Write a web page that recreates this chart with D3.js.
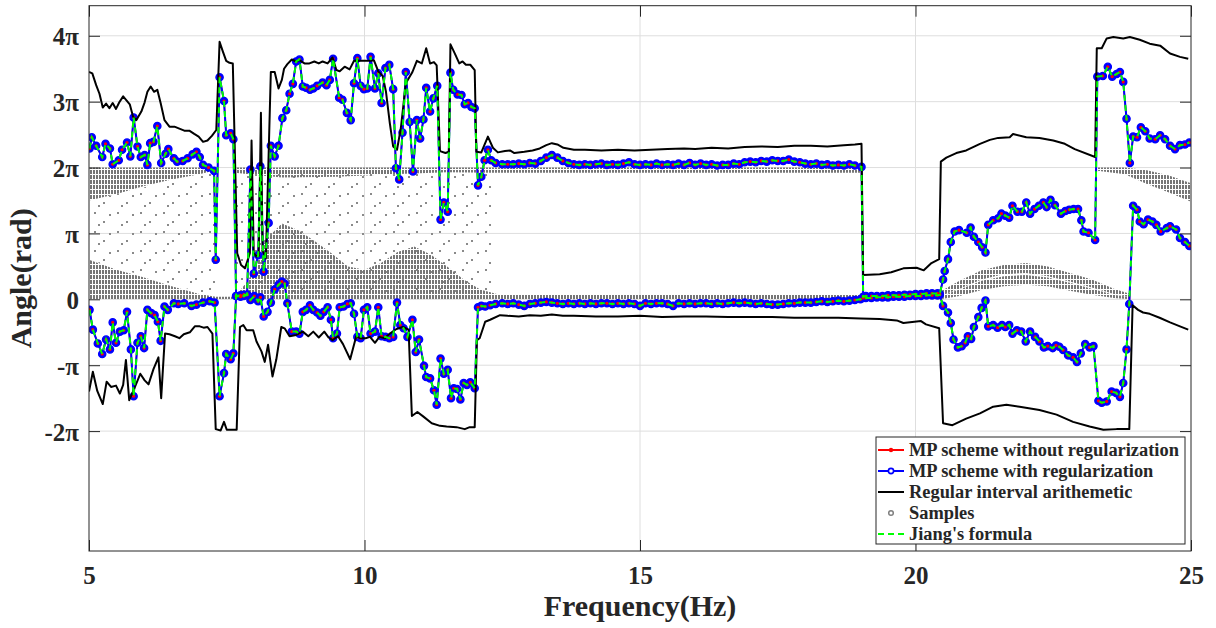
<!DOCTYPE html>
<html><head><meta charset="utf-8">
<script src="https://cdn.jsdelivr.net/npm/d3@7"></script>
<style>
body{margin:0;background:#fff}
svg{display:block}
text{font-family:"Liberation Serif","Times New Roman",serif;font-weight:bold;fill:#262626}
</style>
</head><body>
<svg id="c" width="1216" height="628"></svg>
<script>
// ---------------- data (angles in units of pi rad) ----------------
const xTicks = [5, 10, 15, 20, 25];
const yTicks = [-2, -1, 0, 1, 2, 3, 4];
const yTickLabels = ["-2\u03c0", "-\u03c0", "0", "\u03c0", "2\u03c0", "3\u03c0", "4\u03c0"];
const legendLabels = ["MP scheme without regularization", "MP scheme with regularization",
  "Regular interval arithemetic", "Samples", "Jiang's formula"];

// MP scheme upper branch [frequency Hz, angle/pi]
const mpUpper = [[5.01,2.29],[5.05,2.46],[5.13,2.33],[5.24,2.16],[5.30,2.36],[5.38,2.29],[5.43,2.05],[5.54,2.11],[5.60,2.27],[5.69,2.38],[5.75,2.17],[5.81,2.76],[5.88,2.32],[5.94,2.16],[6.01,2.19],[6.06,2.04],[6.11,2.37],[6.17,2.39],[6.24,2.63],[6.31,2.07],[6.39,2.21],[6.44,2.28],[6.54,2.14],[6.60,2.09],[6.70,2.10],[6.79,2.14],[6.88,2.20],[6.95,2.24],[7.01,2.16],[7.07,2.04],[7.17,2.00],[7.27,1.95],[7.30,0.60],[7.37,3.37],[7.45,3.01],[7.49,2.49],[7.57,2.52],[7.62,2.43],[7.67,0.05],[7.75,0.06],[7.81,0.07],[7.87,0.07],[7.93,1.97],[7.99,0.39],[8.07,0.67],[8.11,2.02],[8.17,0.42],[8.26,1.16],[8.30,2.33],[8.37,2.17],[8.44,2.33],[8.51,2.75],[8.58,2.87],[8.64,3.12],[8.70,3.27],[8.76,3.61],[8.82,3.64],[8.88,3.23],[8.94,3.21],[9.01,3.18],[9.07,3.20],[9.14,3.24],[9.24,3.29],[9.31,3.25],[9.37,3.33],[9.43,3.65],[9.54,3.06],[9.60,3.03],[9.68,2.83],[9.75,2.72],[9.81,3.28],[9.87,3.66],[9.93,3.24],[9.99,3.19],[10.05,3.20],[10.11,3.68],[10.19,3.20],[10.25,3.43],[10.31,2.98],[10.38,3.51],[10.45,3.56],[10.52,3.19],[10.57,1.99],[10.63,1.82],[10.69,2.53],[10.75,3.45],[10.82,2.69],[10.88,1.94],[10.95,2.72],[11.01,2.44],[11.07,2.73],[11.12,3.21],[11.19,2.85],[11.25,3.05],[11.32,3.24],[11.38,1.21],[11.44,1.47],[11.51,1.33],[11.56,3.44],[11.61,3.18],[11.69,3.11],[11.76,3.10],[11.82,2.96],[11.88,2.98],[11.94,2.92],[12.00,2.90],[12.06,1.73],[12.12,1.86],[12.18,2.11],[12.24,2.27],[12.30,2.11],[12.38,2.07],
[12.5,2.05],[12.6,2.05],[12.7,2.05],[12.8,2.06],[12.9,2.05],[13.0,2.07],[13.1,2.06],[13.2,2.10],[13.3,2.15],[13.4,2.19],[13.5,2.15],[13.6,2.10],[13.7,2.07],[13.8,2.05],[13.9,2.04],[14.0,2.05],[14.1,2.04],[14.2,2.05],[14.3,2.06],[14.4,2.04],[14.5,2.05],[14.6,2.04],[14.7,2.06],[14.8,2.08],[14.9,2.05],[15.0,2.04],[15.1,2.05],[15.2,2.04],[15.3,2.06],[15.4,2.04],[15.5,2.05],[15.6,2.04],[15.7,2.06],[15.8,2.04],[15.9,2.07],[16.0,2.04],[16.1,2.06],[16.2,2.04],[16.3,2.05],[16.4,2.03],[16.5,2.04],[16.6,2.04],[16.7,2.06],[16.8,2.05],[16.9,2.08],[17.0,2.09],[17.1,2.08],[17.2,2.10],[17.3,2.09],[17.4,2.11],[17.5,2.10],[17.6,2.10],[17.7,2.12],[17.8,2.09],[17.9,2.08],[18.0,2.06],[18.1,2.05],[18.2,2.06],[18.3,2.04],[18.4,2.05],[18.5,2.03],[18.6,2.04],[18.7,2.03],[18.8,2.05],[18.9,2.03],[19.02,2.01],
[19.05,0.04],[19.1,0.05],[19.2,0.05],[19.3,0.05],[19.4,0.05],[19.5,0.06],[19.6,0.06],[19.7,0.06],[19.8,0.07],[19.9,0.07],[20.0,0.08],[20.1,0.08],[20.2,0.09],[20.3,0.09],[20.4,0.09],[20.44,0.08],
[20.50,0.30],[20.53,0.43],[20.59,0.61],[20.64,0.87],[20.71,1.03],[20.79,1.05],[20.93,1.01],[21.00,1.09],[21.06,0.95],[21.14,0.87],[21.21,0.79],[21.27,0.71],[21.32,1.13],[21.41,1.20],[21.50,1.23],[21.56,1.30],[21.63,1.27],[21.70,1.24],[21.76,1.42],[21.85,1.33],[21.93,1.33],[22.01,1.47],[22.08,1.30],[22.16,1.37],[22.24,1.42],[22.32,1.47],[22.38,1.40],[22.45,1.51],[22.53,1.43],[22.64,1.30],[22.72,1.34],[22.79,1.36],[22.87,1.37],[22.95,1.37],[23.01,1.20],[23.05,1.03],[23.14,1.01],[23.26,0.90],
[23.30,3.38],[23.40,3.39],[23.49,3.53],[23.57,3.38],[23.65,3.42],[23.71,3.45],[23.77,3.30],[23.83,2.74],[23.89,2.07],[23.95,2.47],[24.02,2.46],[24.09,2.61],[24.17,2.55],[24.25,2.44],[24.35,2.43],[24.44,2.49],[24.53,2.43],[24.62,2.33],[24.71,2.28],[24.80,2.34],[24.89,2.35],[24.97,2.38]];

// MP scheme lower branch [frequency Hz, angle/pi]
const mpLower = [[5.01,-0.16],[5.07,-0.46],[5.16,-0.67],[5.24,-0.83],[5.31,-0.61],[5.38,-0.76],[5.43,-0.35],[5.49,-0.66],[5.56,-0.49],[5.63,-0.47],[5.69,-0.19],[5.76,-0.76],[5.81,-1.47],[5.88,-0.66],[5.94,-0.56],[6.00,-0.74],[6.06,-0.16],[6.13,-0.21],[6.19,-0.24],[6.25,-0.34],[6.30,-0.63],[6.37,-0.11],[6.43,-0.16],[6.54,-0.06],[6.62,-0.07],[6.73,-0.06],[6.86,-0.10],[6.95,-0.08],[7.07,-0.05],[7.19,-0.03],[7.28,-0.05],[7.37,-1.47],[7.45,-1.12],[7.49,-0.83],[7.57,-0.91],[7.62,-0.82],[7.67,0.05],[7.75,0.04],[7.81,0.05],[7.87,0.07],[7.93,-0.01],[8.00,0.05],[8.07,-0.03],[8.11,0.03],[8.17,-0.26],[8.24,-0.19],[8.30,-0.05],[8.37,0.15],[8.44,0.22],[8.50,0.27],[8.55,0.24],[8.60,-0.06],[8.68,-0.49],[8.76,-0.49],[8.82,-0.52],[8.88,-0.19],[8.94,-0.16],[9.01,-0.09],[9.07,-0.16],[9.14,-0.20],[9.20,-0.25],[9.26,-0.19],[9.33,-0.12],[9.39,-0.31],[9.43,-0.59],[9.50,-0.52],[9.55,-0.12],[9.62,-0.11],[9.69,-0.07],[9.75,-0.06],[9.81,-0.22],[9.87,-0.57],[9.93,-0.59],[9.99,-0.16],[10.05,-0.12],[10.11,-0.52],[10.19,-0.49],[10.25,-0.12],[10.31,-0.56],[10.38,-0.57],[10.45,-0.59],[10.52,-0.57],[10.59,-0.05],[10.65,-0.39],[10.71,-0.44],[10.78,-0.57],[10.87,-0.31],[10.93,-0.80],[10.99,-0.61],[11.08,-1.01],[11.12,-1.18],[11.19,-1.20],[11.26,-1.38],[11.31,-1.60],[11.38,-0.90],[11.44,-1.13],[11.51,-1.07],[11.57,-1.50],[11.62,-1.35],[11.68,-1.36],[11.74,-1.52],[11.80,-1.27],[11.86,-1.30],[11.92,-1.26],[12.00,-1.35],[12.06,-0.12],[12.12,-0.10],[12.19,-0.11],[12.28,-0.09],[12.38,-0.07],
[12.5,-0.06],[12.6,-0.07],[12.7,-0.06],[12.8,-0.08],[12.9,-0.10],[13.0,-0.07],[13.1,-0.06],[13.2,-0.05],[13.3,-0.04],[13.4,-0.05],[13.5,-0.06],[13.6,-0.07],[13.7,-0.06],[13.8,-0.07],[13.9,-0.06],[14.0,-0.07],[14.1,-0.06],[14.2,-0.07],[14.3,-0.06],[14.4,-0.06],[14.5,-0.07],[14.6,-0.06],[14.7,-0.07],[14.8,-0.06],[14.9,-0.07],[15.0,-0.10],[15.1,-0.06],[15.2,-0.07],[15.3,-0.06],[15.4,-0.06],[15.5,-0.07],[15.6,-0.10],[15.7,-0.06],[15.8,-0.07],[15.9,-0.06],[16.0,-0.07],[16.1,-0.06],[16.2,-0.06],[16.3,-0.07],[16.4,-0.06],[16.5,-0.07],[16.6,-0.06],[16.7,-0.05],[16.8,-0.06],[16.9,-0.05],[17.0,-0.06],[17.1,-0.07],[17.2,-0.06],[17.3,-0.07],[17.4,-0.08],[17.5,-0.08],[17.6,-0.07],[17.7,-0.06],[17.8,-0.06],[17.9,-0.05],[18.0,-0.05],[18.1,-0.05],[18.2,-0.04],[18.3,-0.03],[18.4,-0.04],[18.5,-0.03],[18.6,-0.02],[18.7,-0.03],[18.8,-0.02],[18.9,-0.01],[19.0,0.00],
[19.05,0.02],[19.1,0.02],[19.2,0.02],[19.3,0.03],[19.4,0.03],[19.5,0.03],[19.6,0.04],[19.7,0.04],[19.8,0.04],[19.9,0.05],[20.0,0.05],[20.1,0.05],[20.2,0.06],[20.3,0.06],[20.4,0.06],[20.44,0.07],
[20.50,-0.10],[20.59,-0.20],[20.64,-0.36],[20.69,-0.61],[20.77,-0.73],[20.84,-0.71],[20.90,-0.66],[20.95,-0.56],[21.01,-0.60],[21.06,-0.42],[21.14,-0.27],[21.20,-0.13],[21.27,-0.02],[21.32,-0.41],[21.41,-0.39],[21.49,-0.43],[21.57,-0.39],[21.63,-0.42],[21.70,-0.39],[21.76,-0.52],[21.84,-0.47],[21.92,-0.49],[22.00,-0.64],[22.08,-0.49],[22.17,-0.57],[22.25,-0.64],[22.33,-0.73],[22.40,-0.71],[22.49,-0.74],[22.55,-0.70],[22.61,-0.72],[22.68,-0.77],[22.77,-0.85],[22.86,-0.88],[22.93,-0.95],[23.00,-0.82],[23.08,-0.68],[23.16,-0.73],[23.23,-0.71],
[23.32,-1.54],[23.38,-1.57],[23.47,-1.55],[23.56,-1.40],[23.64,-1.42],[23.71,-1.48],[23.77,-1.27],[23.83,-0.76],[23.88,-0.07],
[23.95,1.42],[24.02,1.36],[24.07,1.18],[24.14,1.14],[24.22,1.21],[24.30,1.18],[24.37,1.13],[24.45,1.03],[24.56,1.08],[24.62,1.11],[24.73,1.06],[24.80,0.93],[24.89,0.87],[24.97,0.81]];

// Regular interval arithmetic bounds
const riaUpper = [[5.00,3.45],[5.06,3.43],[5.13,3.25],[5.19,3.12],[5.25,2.91],[5.31,2.97],[5.37,2.90],[5.43,2.98],[5.49,2.89],[5.55,2.99],[5.62,3.08],[5.68,3.02],[5.74,2.96],[5.80,2.77],[5.86,2.72],[5.95,2.85],[6.01,2.99],[6.06,3.15],[6.12,3.23],[6.18,3.15],[6.24,3.18],[6.30,2.98],[6.37,2.72],[6.46,2.62],[6.55,2.62],[6.64,2.59],[6.73,2.56],[6.82,2.56],[6.91,2.51],[6.99,2.47],[7.07,2.39],[7.15,2.41],[7.23,2.48],[7.31,2.57],[7.37,3.91],[7.43,3.76],[7.49,3.62],[7.55,3.59],[7.61,3.58],[7.69,0.70],[7.76,0.52],[7.83,0.47],[7.87,0.57],[7.92,0.70],[7.95,2.41],[7.99,0.70],[8.04,0.65],[8.08,0.66],[8.12,2.83],[8.15,0.75],[8.21,0.62],[8.30,3.45],[8.37,3.45],[8.44,3.20],[8.50,3.33],[8.54,3.50],[8.60,3.57],[8.68,3.64],[8.76,3.61],[8.82,3.63],[8.91,3.58],[9.00,3.58],[9.09,3.61],[9.17,3.58],[9.24,3.61],[9.33,3.58],[9.42,3.67],[9.49,3.48],[9.55,3.46],[9.64,3.53],[9.73,3.49],[9.81,3.62],[9.92,3.62],[10.03,3.62],[10.11,3.62],[10.17,3.63],[10.25,3.46],[10.33,3.39],[10.39,3.15],[10.46,2.67],[10.52,2.32],[10.59,2.27],[10.66,2.60],[10.75,3.28],[10.87,3.45],[10.95,3.62],[11.04,3.58],[11.12,3.81],[11.19,3.58],[11.26,3.60],[11.31,3.55],[11.37,2.25],[11.47,2.22],[11.53,2.24],[11.56,3.87],[11.64,3.73],[11.72,3.58],[11.78,3.61],[11.84,3.56],[11.92,3.56],[12.00,3.48],[12.03,2.24],[12.12,2.23],[12.24,2.47],[12.33,2.30],[12.42,2.23],[12.55,2.25],[12.64,2.26],[12.72,2.22],[12.90,2.24],[13.05,2.26],[13.18,2.29],[13.30,2.34],[13.40,2.37],[13.50,2.35],[13.61,2.30],[13.80,2.27],[14.00,2.27],[14.30,2.26],[14.60,2.27],[14.90,2.26],[15.20,2.27],[15.50,2.28],[15.80,2.29],[16.00,2.28],[16.30,2.30],[16.60,2.29],[16.90,2.31],[17.20,2.32],[17.50,2.31],[17.80,2.33],[18.10,2.33],[18.40,2.32],[18.70,2.34],[18.90,2.35],[19.02,2.36],[19.05,0.37],[19.35,0.38],[19.56,0.41],[19.78,0.47],[20.02,0.48],[20.15,0.44],[20.29,0.55],[20.43,0.61],[20.46,2.09],[20.56,2.15],[20.74,2.22],[20.92,2.26],[21.17,2.36],[21.35,2.42],[21.50,2.45],[21.71,2.46],[21.77,2.51],[22.01,2.46],[22.25,2.45],[22.50,2.41],[22.71,2.36],[22.89,2.28],[23.26,2.16],[23.29,3.81],[23.38,3.81],[23.47,3.96],[23.59,3.98],[23.77,3.96],[23.89,3.98],[24.07,3.94],[24.25,3.88],[24.44,3.85],[24.62,3.73],[24.80,3.68],[24.95,3.65]];
const riaLower = [[5.00,-1.40],[5.07,-1.10],[5.15,-1.39],[5.25,-1.59],[5.32,-1.25],[5.40,-1.33],[5.49,-1.31],[5.56,-1.43],[5.62,-1.30],[5.67,-0.92],[5.73,-1.53],[5.81,-1.38],[5.93,-1.13],[6.01,-1.23],[6.08,-1.29],[6.17,-1.06],[6.26,-0.88],[6.31,-1.50],[6.38,-0.52],[6.46,-0.53],[6.56,-0.56],[6.64,-0.59],[6.72,-0.53],[6.83,-0.50],[6.92,-0.41],[7.01,-0.41],[7.08,-0.43],[7.15,-0.42],[7.24,-0.52],[7.30,-1.97],[7.39,-1.99],[7.45,-1.86],[7.50,-1.98],[7.68,-1.98],[7.74,-0.42],[7.80,-0.39],[7.86,-0.47],[7.98,-0.47],[8.04,-0.64],[8.13,-0.79],[8.19,-0.95],[8.25,-0.69],[8.33,-1.17],[8.40,-0.91],[8.49,-0.42],[8.55,-0.44],[8.64,-0.56],[8.76,-0.54],[8.88,-0.49],[8.98,-0.56],[9.07,-0.49],[9.17,-0.58],[9.27,-0.49],[9.35,-0.58],[9.42,-0.62],[9.52,-0.56],[9.61,-0.68],[9.74,-0.91],[9.85,-0.56],[9.92,-0.59],[10.02,-0.59],[10.10,-0.57],[10.19,-0.66],[10.27,-0.57],[10.37,-0.59],[10.46,-0.52],[10.58,-0.45],[10.70,-0.42],[10.80,-0.46],[10.86,-1.77],[10.96,-1.71],[11.07,-1.78],[11.22,-1.88],[11.37,-1.92],[11.49,-1.93],[11.67,-1.94],[11.82,-1.97],[11.91,-1.94],[12.00,-1.94],[12.04,-0.62],[12.09,-0.59],[12.19,-0.34],[12.28,-0.31],[12.46,-0.24],[12.60,-0.25],[12.80,-0.26],[13.00,-0.24],[13.20,-0.25],[13.40,-0.23],[13.60,-0.25],[13.80,-0.25],[14.20,-0.26],[14.60,-0.26],[15.00,-0.25],[15.40,-0.27],[15.80,-0.26],[16.20,-0.26],[16.60,-0.27],[17.00,-0.27],[17.40,-0.27],[17.80,-0.28],[18.20,-0.28],[18.60,-0.28],[19.00,-0.29],[19.35,-0.30],[19.66,-0.32],[19.78,-0.36],[20.10,-0.33],[20.19,-0.38],[20.43,-0.44],[20.50,-1.88],[20.67,-1.91],[20.92,-1.81],[21.17,-1.73],[21.41,-1.63],[21.65,-1.60],[21.89,-1.63],[22.25,-1.68],[22.56,-1.75],[22.86,-1.86],[23.16,-1.93],[23.41,-1.98],[23.65,-1.97],[23.88,-1.97],[23.94,-0.09],[24.04,-0.16],[24.13,-0.20],[24.25,-0.22],[24.43,-0.28],[24.62,-0.35],[24.80,-0.41],[24.95,-0.46]];

// Samples: extent of the sample clouds [frequency, low, high]
const samplesDense2piA = [[5.0,1.50,2.0],[5.5,1.60,2.0],[6.0,1.72,2.0],[6.5,1.82,2.0],[7.0,1.90,2.0],[7.3,1.96,2.0]];
const samplesDense2piB = [[7.65,1.92,2.0],[8.5,1.85,2.0],[9.5,1.86,2.0],[10.5,1.90,2.0],[11.5,1.93,2.0],[12.3,1.92,2.0],[13.0,1.92,2.0],[19.0,1.92,2.0]];
const samplesDense0 = [[5.0,0,0.60],[5.5,0,0.45],[6.0,0,0.33],[6.5,0,0.20],[7.0,0,0.08],[7.3,0,0.04],[7.65,0,0.04],[7.9,0,0.30],[8.2,0,0.90],[8.5,0,1.15],[8.8,0,1.05],[9.1,0,0.88],[9.4,0,0.70],[9.7,0,0.50],[10.0,0,0.45],[10.3,0,0.55],[10.6,0,0.72],[10.9,0,0.80],[11.2,0,0.68],[11.5,0,0.50],[11.8,0,0.30],[12.1,0,0.15],[12.4,0,0.08],[19.0,0,0.08],[20.45,0,0.08]];
const samplesSparseA = [[5.0,0.6,1.5],[7.3,0.04,1.96]];
const samplesSparseB = [[7.65,0.04,1.92],[12.3,0.08,1.92]];
const samplesArcHigh = [[20.45,0.05,0.12],[20.8,0.16,0.28],[21.2,0.30,0.44],[21.6,0.38,0.52],[22.0,0.40,0.55],[22.4,0.35,0.50],[22.8,0.27,0.40],[23.2,0.18,0.30],[23.6,0.08,0.16],[23.9,0.03,0.08]];
const samplesArcLow = [[20.45,0.0,0.05],[20.8,0.05,0.15],[21.2,0.14,0.28],[21.6,0.20,0.35],[22.0,0.22,0.37],[22.4,0.20,0.33],[22.8,0.13,0.25],[23.2,0.07,0.16],[23.6,0.02,0.07],[23.9,0.0,0.03]];
const samplesDenseEnd = [[23.3,1.95,2.0],[23.8,1.90,2.0],[24.2,1.75,1.96],[24.6,1.62,1.88],[25.0,1.48,1.76]];

// ---------------- drawing ----------------
const svg = d3.select('#c');
const x = d3.scaleLinear().domain([5, 25]).range([89, 1191]);
const y = d3.scaleLinear().domain([-12 / Math.PI, 14 / Math.PI]).range([551, 5.7]);
const [x0, x1] = x.range(), [y0, y1] = y.range();

const defs = svg.append('defs');
const pd = defs.append('pattern').attr('id', 'dense').attr('patternUnits', 'userSpaceOnUse')
  .attr('width', 3).attr('height', 5);
pd.append('rect').attr('x', 0).attr('y', 0).attr('width', 2).attr('height', 4).attr('fill', '#767676');
const ps = defs.append('pattern').attr('id', 'sparse').attr('patternUnits', 'userSpaceOnUse')
  .attr('width', 23).attr('height', 19);
[[2,3],[11,12],[17,5],[6,15]].forEach(p => ps.append('rect').attr('x', p[0]).attr('y', p[1])
  .attr('width', 2).attr('height', 2).attr('fill', '#8a8a8a'));
defs.append('clipPath').attr('id', 'plotclip').append('rect')
  .attr('x', x0).attr('y', y1).attr('width', x1 - x0).attr('height', y0 - y1);

// grid
const grid = svg.append('g').attr('stroke', '#dedede').attr('stroke-width', 1);
xTicks.slice(1, -1).forEach(t => grid.append('line').attr('x1', x(t)).attr('x2', x(t)).attr('y1', y1).attr('y2', y0));
yTicks.forEach(t => grid.append('line').attr('x1', x0).attr('x2', x1).attr('y1', y(t)).attr('y2', y(t)));

const plot = svg.append('g').attr('clip-path', 'url(#plotclip)');

// samples
const area = d3.area().x(d => x(d[0])).y0(d => y(d[1])).y1(d => y(d[2]));
[samplesSparseA, samplesSparseB].forEach(s => plot.append('path').attr('d', area(s)).attr('fill', 'url(#sparse)'));
[samplesDense2piA, samplesDense2piB, samplesDense0, samplesArcHigh, samplesArcLow, samplesDenseEnd]
  .forEach(s => plot.append('path').attr('d', area(s)).attr('fill', 'url(#dense)'));

const line = d3.line().x(d => x(d[0])).y(d => y(d[1]));
const branches = [mpUpper, mpLower];

// MP scheme without regularization (red) underneath
branches.forEach(b => plot.append('path').attr('d', line(b)).attr('fill', 'none').attr('stroke', '#ff0000').attr('stroke-width', 1.5));
// MP scheme with regularization (blue)
branches.forEach(b => plot.append('path').attr('d', line(b)).attr('fill', 'none').attr('stroke', '#0000ff').attr('stroke-width', 2));
branches.forEach(b => plot.append('g').selectAll('circle').data(b).join('circle')
  .attr('cx', d => x(d[0])).attr('cy', d => y(d[1])).attr('r', 3.6)
  .attr('fill', '#0000ff').attr('stroke', '#0000ff').attr('stroke-width', 1.4));
branches.forEach(b => plot.append('g').selectAll('circle').data(b).join('circle')
  .attr('cx', d => x(d[0])).attr('cy', d => y(d[1])).attr('r', 1.6).attr('fill', '#ff0000'));
// regular interval arithmetic
[riaUpper, riaLower].forEach(b => plot.append('path').attr('d', line(b)).attr('fill', 'none')
  .attr('stroke', '#000').attr('stroke-width', 2).attr('stroke-linejoin', 'round'));
// Jiang's formula
branches.forEach(b => plot.append('path').attr('d', line(b)).attr('fill', 'none')
  .attr('stroke', '#00ff00').attr('stroke-width', 2).attr('stroke-dasharray', '6,4'));

// axes (inward ticks)
const fmtY = d => yTickLabels[yTicks.indexOf(d)];
const ax = svg.append('g').attr('transform', `translate(0,${y0})`)
  .call(d3.axisBottom(x).tickValues(xTicks).tickSize(-11).tickPadding(15).tickFormat(d3.format('d')));
const ay = svg.append('g').attr('transform', `translate(${x0},0)`)
  .call(d3.axisLeft(y).tickValues(yTicks).tickSize(-11).tickPadding(10).tickFormat(fmtY));
const axt = svg.append('g').attr('transform', `translate(0,${y1})`)
  .call(d3.axisTop(x).tickValues(xTicks).tickSize(-11).tickFormat(''));
const ayr = svg.append('g').attr('transform', `translate(${x1},0)`)
  .call(d3.axisRight(y).tickValues(yTicks).tickSize(-11).tickFormat(''));
[ax, ay, axt, ayr].forEach(g => {
  g.select('.domain').remove();
  g.selectAll('.tick line').attr('stroke', '#262626').attr('stroke-width', 1);
  g.selectAll('text').attr('font-family', null).attr('font-size', null).style('font-size', '25px').attr('fill', '#262626');
});
ay.selectAll('text').attr('dy', '0.36em');
svg.append('rect').attr('x', x0).attr('y', y1).attr('width', x1 - x0).attr('height', y0 - y1)
  .attr('fill', 'none').attr('stroke', '#262626').attr('stroke-width', 1);

// axis titles
svg.append('text').attr('x', (x0 + x1) / 2).attr('y', 616).attr('text-anchor', 'middle')
  .style('font-size', '30px').text('Frequency(Hz)');
svg.append('text').attr('transform', `translate(31,${(y0 + y1) / 2}) rotate(-90)`).attr('text-anchor', 'middle')
  .style('font-size', '30px').text('Angle(rad)');

// legend
const lg = svg.append('g');
lg.append('rect').attr('x', 876).attr('y', 437).attr('width', 309).attr('height', 107)
  .attr('fill', '#fff').attr('stroke', '#262626').attr('stroke-width', 1);
const ly = i => 450 + i * 21;
const sx0 = 878, sx1 = 904, sxm = 891;
lg.append('line').attr('x1', sx0).attr('x2', sx1).attr('y1', ly(0)).attr('y2', ly(0)).attr('stroke', '#ff0000').attr('stroke-width', 2);
lg.append('circle').attr('cx', sxm).attr('cy', ly(0)).attr('r', 2.2).attr('fill', '#ff0000');
lg.append('line').attr('x1', sx0).attr('x2', sx1).attr('y1', ly(1)).attr('y2', ly(1)).attr('stroke', '#0000ff').attr('stroke-width', 2);
lg.append('circle').attr('cx', sxm).attr('cy', ly(1)).attr('r', 2.6).attr('fill', '#fff').attr('stroke', '#0000ff').attr('stroke-width', 1.6);
lg.append('line').attr('x1', sx0).attr('x2', sx1).attr('y1', ly(2)).attr('y2', ly(2)).attr('stroke', '#000').attr('stroke-width', 2);
lg.append('circle').attr('cx', sxm).attr('cy', ly(3)).attr('r', 2.3).attr('fill', 'none').attr('stroke', '#808080').attr('stroke-width', 1.5);
lg.append('line').attr('x1', sx0).attr('x2', sx1 + 2).attr('y1', ly(4)).attr('y2', ly(4)).attr('stroke', '#00ff00').attr('stroke-width', 2).attr('stroke-dasharray', '6,4');
legendLabels.forEach((t, i) => lg.append('text').attr('x', 909).attr('y', ly(i) + 6).style('font-size', '18.4px').text(t));
</script>
</body></html>
